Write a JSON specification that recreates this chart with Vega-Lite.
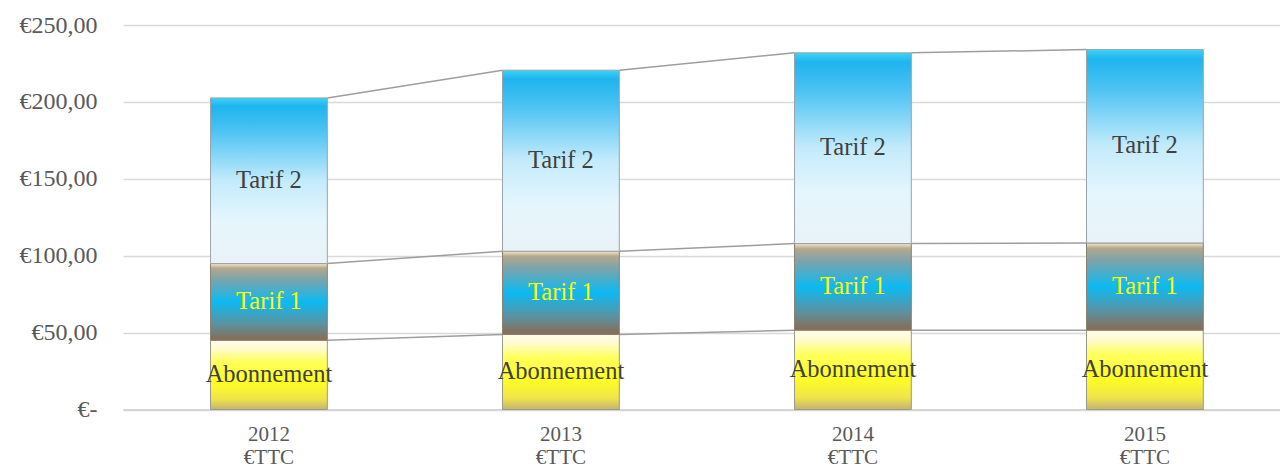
{
  "$schema": "https://vega.github.io/schema/vega-lite/v6.json",
  "autosize": {"type": "none"},
  "padding": {"left": 123, "top": 25, "right": 0, "bottom": 60},
  "width": 1157,
  "height": 384.5,
  "background": "#ffffff",
  "config": {
    "view": {"stroke": null},
    "font": "Liberation Serif"
  },
  "data": {
    "values": [
      {"year": "2012", "series": "Abonnement", "value": 45.0},
      {"year": "2012", "series": "Tarif 1", "value": 49.9},
      {"year": "2012", "series": "Tarif 2", "value": 107.7},
      {"year": "2013", "series": "Abonnement", "value": 48.8},
      {"year": "2013", "series": "Tarif 1", "value": 54.1},
      {"year": "2013", "series": "Tarif 2", "value": 117.7},
      {"year": "2014", "series": "Abonnement", "value": 51.6},
      {"year": "2014", "series": "Tarif 1", "value": 56.3},
      {"year": "2014", "series": "Tarif 2", "value": 124.0},
      {"year": "2015", "series": "Abonnement", "value": 51.6},
      {"year": "2015", "series": "Tarif 1", "value": 56.7},
      {"year": "2015", "series": "Tarif 2", "value": 125.7}
    ]
  },
  "transform": [
    {"stack": "value", "groupby": ["year"], "sort": [{"field": "series", "order": "ascending"}], "as": ["y0", "y1"]}
  ],
  "encoding": {
    "x": {
      "field": "year", "type": "nominal",
      "scale": {"paddingInner": 0.6, "paddingOuter": 0.2812, "align": 0.533},
      "axis": {
        "title": null, "labelAngle": 0, "ticks": false,
        "domainColor": "#d4d4d4", "domainWidth": 2,
        "labelFont": "Liberation Serif", "labelFontSize": 21, "labelColor": "#595959",
        "labelPadding": 14, "labelLineHeight": 23,
        "labelExpr": "[datum.label, '€TTC']"
      }
    }
  },
  "layer": [
    {
      "transform": [
        {"window": [{"op": "lead", "field": "y1", "as": "nextTop"}, {"op": "lead", "field": "year", "as": "nextYear"}], "groupby": ["series"], "sort": [{"field": "year", "order": "ascending"}]},
        {"filter": "datum.nextYear != null"}
      ],
      "mark": {"type": "rule", "color": "#9e9e9e", "strokeWidth": 1.5},
      "encoding": {
        "x": {"field": "year", "type": "nominal", "bandPosition": 1},
        "x2": {"field": "nextYear", "bandPosition": 0},
        "y": {"field": "y1", "type": "quantitative"},
        "y2": {"field": "nextTop"}
      }
    },
    {
      "transform": [{"filter": "datum.series == 'Abonnement'"}],
      "mark": {
        "type": "bar", "stroke": "#9a9a8a", "strokeWidth": 1,
        "color": {"gradient": "linear", "x1": 0, "y1": 0, "x2": 0, "y2": 1,
          "stops": [
            {"offset": 0, "color": "#fffcec"},
            {"offset": 0.12, "color": "#fffbd0"},
            {"offset": 0.3, "color": "#ffff60"},
            {"offset": 0.6, "color": "#ffff22"},
            {"offset": 0.85, "color": "#f0e44a"},
            {"offset": 1, "color": "#c4b274"}
          ]}
      },
      "encoding": {
        "y": {"field": "y0", "type": "quantitative",
          "scale": {"domain": [0, 250], "nice": false, "zero": true},
          "axis": {
            "title": null, "values": [0, 50, 100, 150, 200, 250],
            "grid": true, "gridColor": "#d9d9d9", "gridWidth": 1.5,
            "domain": false, "ticks": false, "labelPadding": 26,
            "labelFont": "Liberation Serif", "labelFontSize": 24, "labelColor": "#595959",
            "labelExpr": "datum.value == 0 ? '€-\u00a0\u00a0\u00a0' : '€' + replace(format(datum.value, '.2f'), '.', ',')"
          }
        },
        "y2": {"field": "y1"}
      }
    },
    {
      "transform": [{"filter": "datum.series == 'Tarif 1'"}],
      "mark": {
        "type": "bar", "stroke": "#8a8070", "strokeWidth": 1,
        "color": {"gradient": "linear", "x1": 0, "y1": 0, "x2": 0, "y2": 1,
          "stops": [
            {"offset": 0, "color": "#f7e8cc"},
            {"offset": 0.06, "color": "#b4a88e"},
            {"offset": 0.2, "color": "#7ea3aa"},
            {"offset": 0.5, "color": "#0cbaf2"},
            {"offset": 0.78, "color": "#5a93a4"},
            {"offset": 1, "color": "#8a6a52"}
          ]}
      },
      "encoding": {
        "y": {"field": "y0", "type": "quantitative"},
        "y2": {"field": "y1"}
      }
    },
    {
      "transform": [{"filter": "datum.series == 'Tarif 2'"}],
      "mark": {
        "type": "bar", "stroke": "#9aa4aa", "strokeWidth": 1,
        "color": {"gradient": "linear", "x1": 0, "y1": 0, "x2": 0, "y2": 1,
          "stops": [
            {"offset": 0, "color": "#3ad4f6"},
            {"offset": 0.05, "color": "#1fb4ee"},
            {"offset": 0.2, "color": "#4cc3f3"},
            {"offset": 0.5, "color": "#c4ebfb"},
            {"offset": 0.75, "color": "#e6f6fd"},
            {"offset": 1, "color": "#e8f2f7"}
          ]}
      },
      "encoding": {
        "y": {"field": "y0", "type": "quantitative"},
        "y2": {"field": "y1"}
      }
    },
    {
      "transform": [
        {"fold": ["y0", "y1"], "as": ["edge", "pos"]}
      ],
      "mark": {"type": "text", "font": "Liberation Serif", "fontSize": 24.5, "baseline": "middle", "align": "center"},
      "encoding": {
        "y": {"aggregate": "mean", "field": "pos", "type": "quantitative", "stack": null},
        "detail": {"field": "series"},
        "text": {"field": "series"},
        "color": {"condition": {"test": "datum.series == 'Tarif 1'", "value": "#ffff00"}, "value": "#404040"}
      }
    }
  ]
}
